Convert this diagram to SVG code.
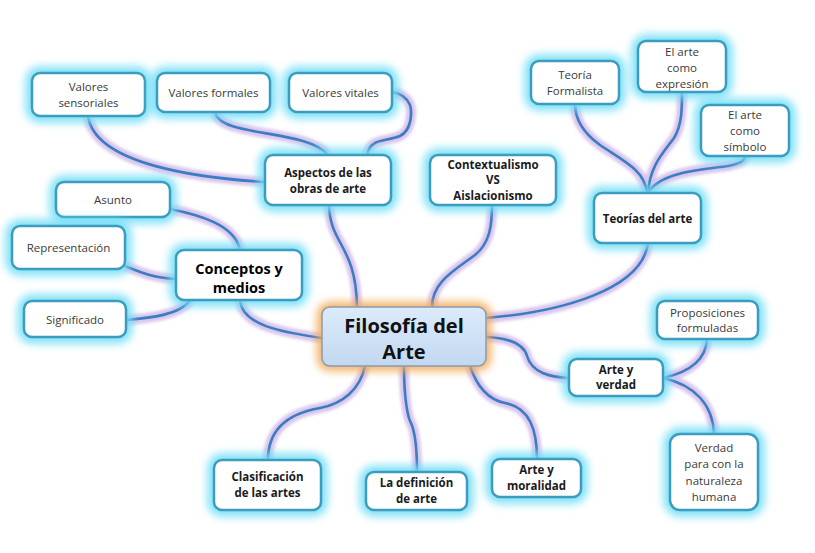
<svg xmlns="http://www.w3.org/2000/svg" xmlns:xlink="http://www.w3.org/1999/xlink" width="815" height="553" viewBox="0 0 815 553">
<defs>
<filter id="blur" x="-40%" y="-40%" width="180%" height="180%"><feGaussianBlur stdDeviation="4.5"/></filter>
<filter id="lblur" x="-10%" y="-10%" width="120%" height="120%"><feGaussianBlur stdDeviation="1.8"/></filter>
<linearGradient id="cg" x1="0" y1="0" x2="0" y2="1"><stop offset="0" stop-color="#dcebfa"/><stop offset="1" stop-color="#c2d8f1"/></linearGradient>
<style>
.glow{fill:#70def6;stroke:#70def6;stroke-width:13;filter:url(#blur);opacity:0.9}
.box{fill:#fff;stroke:#3b9cc0;stroke-width:2.5}
.t{font-family:"Open Sans","Noto Sans",sans-serif;font-size:11.5px;fill:#3a3a3a;text-anchor:middle}
.b{font-family:"Open Sans","Noto Sans",sans-serif;font-size:11.5px;font-weight:bold;fill:#1a1a1a;text-anchor:middle}
.big{font-size:14.5px;fill:#000}
.halo{fill:none;stroke:#c0a0e0;stroke-width:10;opacity:0.6;filter:url(#lblur)}
.line{fill:none;stroke:#3c7cc2;stroke-width:2.6}
</style>
<path id="c1" d="M 240 300 C 242 325, 280 332, 322 338"/>
<path id="c2" d="M 240 250 C 235 225, 200 215, 170 209"/>
<path id="c3" d="M 176 279 C 150 277, 140 272, 125 266"/>
<path id="c4" d="M 190 300 C 180 315, 150 318, 126 320"/>
<path id="c5" d="M 329 205 C 330 245, 356 245, 357 307"/>
<path id="c6" d="M 88 116 C 95 165, 200 178, 265 182"/>
<path id="c7" d="M 215 112 C 220 138, 305 128, 328 155"/>
<path id="c8" d="M 367 155 C 370 138, 385 142, 400 136 C 412 130, 412 112, 410 105 C 406 95, 398 93, 392 92"/>
<path id="c9" d="M 432 307 C 432 282, 455 270, 475 255 C 490 243, 492 225, 492 205"/>
<path id="c10" d="M 486 318 C 560 312, 642 290, 648 243"/>
<path id="c11" d="M 647 193 C 645 170, 622 160, 600 145 C 582 132, 575 118, 575 104"/>
<path id="c12" d="M 648 193 C 650 165, 664 152, 674 138 C 682 125, 682 108, 682 92"/>
<path id="c13" d="M 648 193 C 660 172, 700 170, 728 166 C 742 163, 745 160, 745 156"/>
<path id="c14" d="M 486 337 C 510 338, 524 345, 527 356 C 532 373, 550 377, 569 378"/>
<path id="c15" d="M 663 378 C 690 372, 706 360, 707 339"/>
<path id="c16" d="M 663 378 C 695 385, 713 405, 714 434"/>
<path id="c17" d="M 470 366 C 478 390, 490 400, 505 403 C 530 408, 537 430, 537 459"/>
<path id="c18" d="M 404 366 C 404 400, 408 418, 411 423 C 415 432, 417 445, 417 472"/>
<path id="c19" d="M 365 366 C 360 390, 342 404, 320 408 C 285 414, 268 432, 268 460"/>
</defs>
<rect width="815" height="553" fill="#fff"/>
<g id="connectors">
<g class="halo">
<use href="#c1"/><use href="#c2"/><use href="#c3"/><use href="#c4"/><use href="#c5"/><use href="#c6"/><use href="#c7"/><use href="#c8"/><use href="#c9"/><use href="#c10"/><use href="#c11"/><use href="#c12"/><use href="#c13"/><use href="#c14"/><use href="#c15"/><use href="#c16"/><use href="#c17"/><use href="#c18"/><use href="#c19"/>
</g>
<g class="line">
<use href="#c1"/><use href="#c2"/><use href="#c3"/><use href="#c4"/><use href="#c5"/><use href="#c6"/><use href="#c7"/><use href="#c8"/><use href="#c9"/><use href="#c10"/><use href="#c11"/><use href="#c12"/><use href="#c13"/><use href="#c14"/><use href="#c15"/><use href="#c16"/><use href="#c17"/><use href="#c18"/><use href="#c19"/>
</g>
</g>
<g id="central">
<rect x="322" y="307" width="164" height="59" rx="8" fill="#f3a955" stroke="#f3a955" stroke-width="10" filter="url(#blur)" opacity="0.9"/>
<rect x="322" y="307" width="164" height="59" rx="8" fill="url(#cg)" stroke="#8a9bb0" stroke-width="1.5"/>
<text x="404" y="333" font-family="'Open Sans','Noto Sans',sans-serif" font-size="20" font-weight="bold" fill="#111" text-anchor="middle">Filosofía del</text>
<text x="404" y="359" font-family="'Open Sans','Noto Sans',sans-serif" font-size="20" font-weight="bold" fill="#111" text-anchor="middle">Arte</text>
</g>
<g id="valores-sensoriales">
<rect class="glow" x="32" y="73" width="113" height="43" rx="8"/><rect class="box" x="32" y="73" width="113" height="43" rx="8"/>
<text class="t" x="88.5" y="91">Valores</text><text class="t" x="88.5" y="107">sensoriales</text>
</g>
<g id="valores-formales">
<rect class="glow" x="157" y="73" width="113" height="39" rx="8"/><rect class="box" x="157" y="73" width="113" height="39" rx="8"/>
<text class="t" x="213.5" y="97">Valores formales</text>
</g>
<g id="valores-vitales">
<rect class="glow" x="289" y="73" width="103" height="39" rx="8"/><rect class="box" x="289" y="73" width="103" height="39" rx="8"/>
<text class="t" x="340.5" y="97">Valores vitales</text>
</g>
<g id="aspectos">
<rect class="glow" x="265" y="155" width="126" height="50" rx="8"/><rect class="box" x="265" y="155" width="126" height="50" rx="8"/>
<text class="b" x="328" y="177">Aspectos de las</text><text class="b" x="328" y="193">obras de arte</text>
</g>
<g id="asunto">
<rect class="glow" x="56" y="182" width="114" height="35" rx="8"/><rect class="box" x="56" y="182" width="114" height="35" rx="8"/>
<text class="t" x="113" y="204">Asunto</text>
</g>
<g id="representacion">
<rect class="glow" x="12" y="226" width="113" height="43" rx="8"/><rect class="box" x="12" y="226" width="113" height="43" rx="8"/>
<text class="t" x="68.5" y="252">Representación</text>
</g>
<g id="conceptos">
<rect class="glow" x="176" y="250" width="126" height="50" rx="8"/><rect class="box" x="176" y="250" width="126" height="50" rx="8"/>
<text class="b big" x="239" y="274">Conceptos y</text><text class="b big" x="239" y="293">medios</text>
</g>
<g id="significado">
<rect class="glow" x="24" y="301" width="102" height="36" rx="8"/><rect class="box" x="24" y="301" width="102" height="36" rx="8"/>
<text class="t" x="75" y="324">Significado</text>
</g>
<g id="contextualismo">
<rect class="glow" x="430" y="155" width="126" height="50" rx="8"/><rect class="box" x="430" y="155" width="126" height="50" rx="8"/>
<text class="b" x="493" y="169">Contextualismo</text><text class="b" x="493" y="184">VS</text><text class="b" x="493" y="200">Aislacionismo</text>
</g>
<g id="teoria-formalista">
<rect class="glow" x="531" y="61" width="88" height="43" rx="8"/><rect class="box" x="531" y="61" width="88" height="43" rx="8"/>
<text class="t" x="575" y="79">Teoría</text><text class="t" x="575" y="95">Formalista</text>
</g>
<g id="arte-expresion">
<rect class="glow" x="638" y="41" width="88" height="51" rx="8"/><rect class="box" x="638" y="41" width="88" height="51" rx="8"/>
<text class="t" x="682" y="56">El arte</text><text class="t" x="682" y="72">como</text><text class="t" x="682" y="88">expresión</text>
</g>
<g id="arte-simbolo">
<rect class="glow" x="701" y="105" width="88" height="51" rx="8"/><rect class="box" x="701" y="105" width="88" height="51" rx="8"/>
<text class="t" x="745" y="119">El arte</text><text class="t" x="745" y="135">como</text><text class="t" x="745" y="151">símbolo</text>
</g>
<g id="teorias">
<rect class="glow" x="594" y="193" width="107" height="50" rx="8"/><rect class="box" x="594" y="193" width="107" height="50" rx="8"/>
<text class="b" x="647.5" y="223">Teorías del arte</text>
</g>
<g id="proposiciones">
<rect class="glow" x="657" y="301" width="101" height="38" rx="8"/><rect class="box" x="657" y="301" width="101" height="38" rx="8"/>
<text class="t" x="707.5" y="317">Proposiciones</text><text class="t" x="707.5" y="332">formuladas</text>
</g>
<g id="arte-verdad">
<rect class="glow" x="569" y="359" width="94" height="37" rx="8"/><rect class="box" x="569" y="359" width="94" height="37" rx="8"/>
<text class="b" x="616" y="374">Arte y</text><text class="b" x="616" y="389">verdad</text>
</g>
<g id="verdad-naturaleza">
<rect class="glow" x="670" y="434" width="88" height="76" rx="10"/><rect class="box" x="670" y="434" width="88" height="76" rx="10"/>
<text class="t" x="714" y="452">Verdad</text><text class="t" x="714" y="468">para con la</text><text class="t" x="714" y="485">naturaleza</text><text class="t" x="714" y="501">humana</text>
</g>
<g id="clasificacion">
<rect class="glow" x="214" y="460" width="107" height="50" rx="8"/><rect class="box" x="214" y="460" width="107" height="50" rx="8"/>
<text class="b" x="267.5" y="481">Clasificación</text><text class="b" x="267.5" y="497">de las artes</text>
</g>
<g id="definicion">
<rect class="glow" x="366" y="472" width="101" height="38" rx="8"/><rect class="box" x="366" y="472" width="101" height="38" rx="8"/>
<text class="b" x="416.5" y="487">La definición</text><text class="b" x="416.5" y="503">de arte</text>
</g>
<g id="moralidad">
<rect class="glow" x="492" y="459" width="89" height="38" rx="8"/><rect class="box" x="492" y="459" width="89" height="38" rx="8"/>
<text class="b" x="536.5" y="474">Arte y</text><text class="b" x="536.5" y="490">moralidad</text>
</g>
</svg>
